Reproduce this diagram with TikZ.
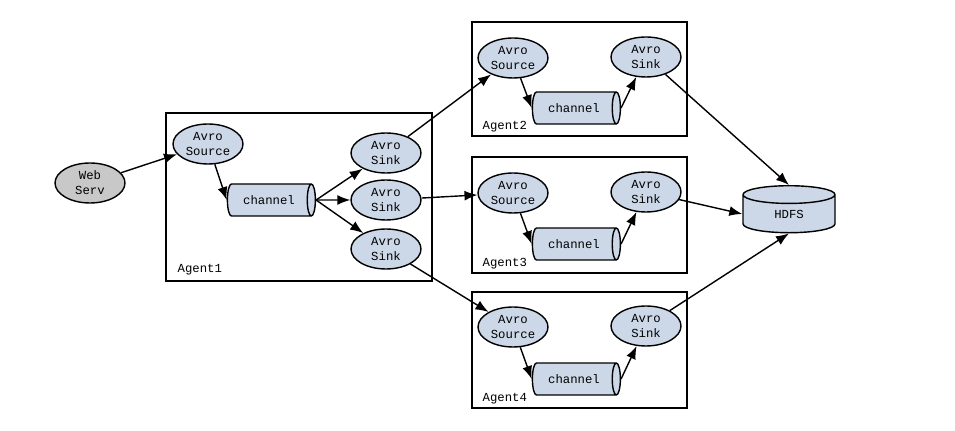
\documentclass[tikz,border=0pt]{standalone}
\usepackage{fontspec}
\setmainfont{Liberation Mono}
\usetikzlibrary{shapes.geometric,arrows.meta}
\definecolor{avroblue}{RGB}{204,216,232}
\definecolor{servgray}{RGB}{200,200,200}

\begin{document}
\begin{tikzpicture}[x=0.02cm,y=-0.02cm,>={Latex[length=2.6mm,width=2mm]},line width=0.8pt,
	comp/.style={shape=ellipse,draw=black,fill=avroblue,minimum width=1.4cm,minimum height=0.8cm,inner sep=0pt,align=center,font=\fontsize{7}{8.5}\selectfont},
	chan/.style={shape=cylinder,draw=black,fill=avroblue,aspect=0.9,minimum width=0.64cm,minimum height=1.76cm,inner sep=0pt,font=\fontsize{7}{8.5}\selectfont},
	lbl/.style={anchor=west,inner sep=0pt,font=\fontsize{7}{8.5}\selectfont}]
	\useasboundingbox (0,0) rectangle (955,431);
	% agent frames
	\draw (166,113) rectangle (432,281);
	\draw (472,22) rectangle (687,136);
	\draw (472,157) rectangle (687,273);
	\draw (472,292) rectangle (687,408);
	\node[lbl] (L1) at (177,270) {Agent1};
	\node[lbl] (L2) at (482,127) {Agent2};
	\node[lbl] (L3) at (482,264) {Agent3};
	\node[lbl] (L4) at (482,399) {Agent4};
	% web server
	\node[comp,fill=servgray] (W) at (90,183) {Web\\Serv};
	% agent 1
	\node[comp] (S1) at (208,144) {Avro\\Source};
	\node[chan] (C1) at (269,200) {channel};
	\node[comp] (K1) at (386,153) {Avro\\Sink};
	\node[comp] (K2) at (386,200) {Avro\\Sink};
	\node[comp] (K3) at (386,249) {Avro\\Sink};
	% agents 2-4
	\node[comp] (S2) at (513,58) {Avro\\Source};
	\node[chan] (C2) at (574,108) {channel};
	\node[comp] (T2) at (646,57) {Avro\\Sink};
	\node[comp] (S3) at (513,193) {Avro\\Source};
	\node[chan] (C3) at (574,244) {channel};
	\node[comp] (T3) at (646,192) {Avro\\Sink};
	\node[comp] (S4) at (513,327) {Avro\\Source};
	\node[chan] (C4) at (574,379) {channel};
	\node[comp] (T4) at (646,326) {Avro\\Sink};
	% store
	\node[chan,shape border rotate=90,aspect=0.6,minimum width=1.84cm,minimum height=0.94cm] (H) at (789,214) {HDFS};
	\path [->] (W) edge (S1);
	\path [->] (S1) edge (C1.west);
	\path [->] (C1.east) edge (K1);
	\path [->] (C1.east) edge (K2);
	\path [->] (C1.east) edge (K3);
	\path [->] (K1) edge (S2);
	\path [->] (K2) edge (S3);
	\path [->] (K3) edge (S4);
	\path [->] (S2) edge (C2.west);
	\path [->] (C2.east) edge (T2);
	\path [->] (S3) edge (C3.west);
	\path [->] (C3.east) edge (T3);
	\path [->] (S4) edge (C4.west);
	\path [->] (C4.east) edge (T4);
	\path [->] (T2) edge (H.north);
	\path [->] (T3) edge (H.west);
	\path [->] (T4) edge (H.south);
\end{tikzpicture}
\end{document}
